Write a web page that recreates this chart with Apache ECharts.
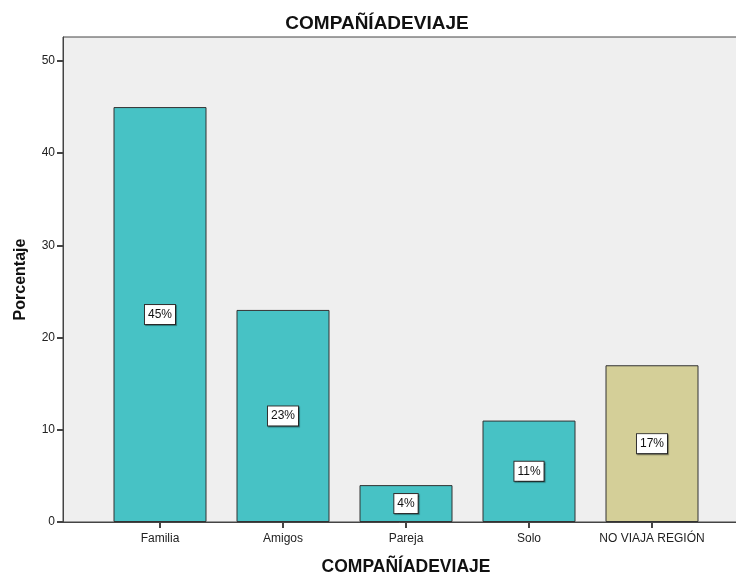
<!DOCTYPE html>
<html>
<head>
<meta charset="utf-8">
<script src="https://cdn.jsdelivr.net/npm/echarts@6/dist/echarts.min.js"></script>
<style>
  html, body { margin: 0; padding: 0; background: #ffffff; }
  #chart { width: 736px; height: 574px; }
</style>
</head>
<body>
<div id="chart"></div>
<script>
// Companion-of-travel breakdown (percent of respondents)
const categories = ['Familia', 'Amigos', 'Pareja', 'Solo', 'NO VIAJA REGIÓN'];
const percentages = [45, 23, 4, 11, 17];
const yTicks = [0, 10, 20, 30, 40, 50];

const TEAL = '#47c2c5';
const KHAKI = '#d4cf98';
const barColors = [TEAL, TEAL, TEAL, TEAL, KHAKI];

const FONT = '"Liberation Sans", Arial, sans-serif';
const Y_MAX = 52.6;

const chart = echarts.init(document.getElementById('chart'), null, { renderer: 'canvas' });

chart.setOption({
  animation: false,
  backgroundColor: '#ffffff',
  title: {
    text: 'COMPAÑÍADEVIAJE',
    left: 372,
    top: 9,
    textAlign: 'center',
    textStyle: { fontFamily: FONT, fontSize: 19, fontWeight: 'bold', color: '#111' }
  },
  grid: [
    // frame, background and value axis
    { left: 63, top: 37, right: -2, bottom: 52, show: true, backgroundColor: '#efefef',
      borderColor: '#444', borderWidth: 1, containLabel: false, outerBoundsMode: 'none' },
    // bar band area
    { left: 98.5, top: 37, right: 22.5, bottom: 52, containLabel: false, outerBoundsMode: 'none' }
  ],
  xAxis: [
    { gridIndex: 0, type: 'value', min: 0, max: 1, show: true,
      axisLine: { show: true, lineStyle: { color: '#444', width: 1 } },
      axisTick: { show: false }, axisLabel: { show: false }, splitLine: { show: false } },
    { gridIndex: 1, type: 'category', data: categories, boundaryGap: true,
      axisLine: { show: false },
      axisTick: { show: true, alignWithLabel: true, length: 6, lineStyle: { color: '#444', width: 2 } },
      axisLabel: { fontFamily: FONT, fontSize: 12, color: '#222', margin: 11, interval: 0 },
      name: 'COMPAÑÍADEVIAJE', nameLocation: 'middle', nameGap: 36,
      nameTextStyle: { fontFamily: FONT, fontSize: 17.5, fontWeight: 'bold', color: '#111' } }
  ],
  yAxis: [
    { gridIndex: 0, type: 'value', min: 0, max: Y_MAX,
      axisLine: { show: true, lineStyle: { color: '#444', width: 1 } },
      axisTick: { show: true, length: 6, lineStyle: { color: '#444', width: 2 },
        customValues: yTicks },
      axisLabel: { fontFamily: FONT, fontSize: 12, color: '#222', margin: 8,
        customValues: yTicks },
      splitLine: { show: false },
      name: 'Porcentaje', nameLocation: 'middle', nameGap: 34, nameRotate: 90,
      nameTextStyle: { fontFamily: FONT, fontSize: 16, fontWeight: 'bold', color: '#111' } },
    { gridIndex: 1, type: 'value', min: 0, max: Y_MAX, show: false }
  ],
  series: [{
    type: 'bar',
    xAxisIndex: 1,
    yAxisIndex: 1,
    barWidth: 93,
    data: percentages.map((v, i) => ({
      value: v,
      itemStyle: { color: barColors[i], borderColor: '#333', borderWidth: 1 }
    })),
    label: {
      show: true,
      position: 'inside',
      formatter: '{c}%',
      fontFamily: FONT,
      fontSize: 12,
      color: '#111',
      backgroundColor: '#ffffff',
      borderColor: '#333',
      borderWidth: 1,
      padding: [4, 3, 3, 3],
      shadowColor: 'rgba(0,0,0,0.35)',
      shadowOffsetX: 1,
      shadowOffsetY: 1,
      shadowBlur: 1
    }
  }]
});
</script>
</body>
</html>
